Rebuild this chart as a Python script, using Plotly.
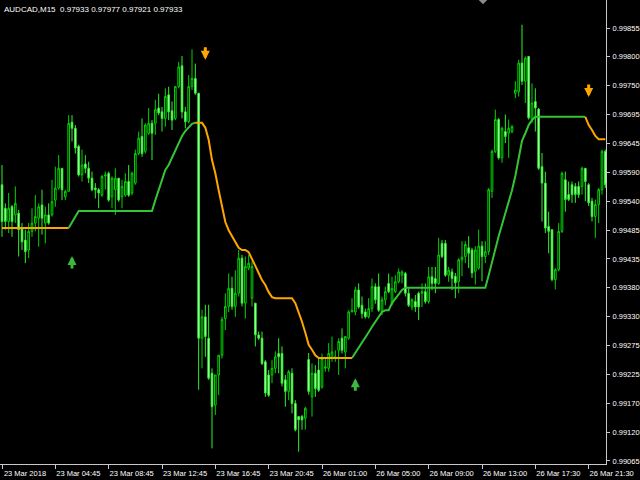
import numpy as np
import plotly.graph_objects as go

symbol_title = "AUDCAD,M15\u00a0 0.97933 0.97977 0.97921 0.97933"

open_ = [
0.99569, 0.99526, 0.99502, 0.99529, 0.99514, 0.99517, 0.99490, 0.99468, 0.99450, 0.99484,
0.99499, 0.99508, 0.99532, 0.99499, 0.99514, 0.99514, 0.99541, 0.99563, 0.99599, 0.99547,
0.99557, 0.99683, 0.99672, 0.99639, 0.99587, 0.99607, 0.99599, 0.99581, 0.99563, 0.99560,
0.99550, 0.99585, 0.99590, 0.99547, 0.99560, 0.99581, 0.99547, 0.99550, 0.99575, 0.99554,
0.99572, 0.99626, 0.99657, 0.99630, 0.99663, 0.99681, 0.99681, 0.99709, 0.99702, 0.99690,
0.99733, 0.99704, 0.99690, 0.99748, 0.99786, 0.99702, 0.99684, 0.99748, 0.99763, 0.99736,
0.99289, 0.99328, 0.99289, 0.99225, 0.99167, 0.99222, 0.99258, 0.99325, 0.99347, 0.99380,
0.99347, 0.99371, 0.99435, 0.99353, 0.99417, 0.99362, 0.99353, 0.99295, 0.99289, 0.99246,
0.99222, 0.99222, 0.99234, 0.99261, 0.99261, 0.99213, 0.99192, 0.99225, 0.99170, 0.99146,
0.99146, 0.99143, 0.99250, 0.99182, 0.99225, 0.99231, 0.99200, 0.99234, 0.99234, 0.99252,
0.99252, 0.99267, 0.99289, 0.99264, 0.99289, 0.99337, 0.99337, 0.99377, 0.99349, 0.99337,
0.99328, 0.99343, 0.99383, 0.99383, 0.99337, 0.99359, 0.99389, 0.99352, 0.99374, 0.99392,
0.99404, 0.99407, 0.99371, 0.99346, 0.99356, 0.99371, 0.99371, 0.99374, 0.99356, 0.99401,
0.99398, 0.99389, 0.99462, 0.99462, 0.99404, 0.99410, 0.99402, 0.99392, 0.99432, 0.99438,
0.99454, 0.99450, 0.99411, 0.99417, 0.99457, 0.99438, 0.99447, 0.99557, 0.99630, 0.99688,
0.99618, 0.99666, 0.99663, 0.99666, 0.99736, 0.99739, 0.99791, 0.99758, 0.99803, 0.99688,
0.99721, 0.99707, 0.99602, 0.99572, 0.99493, 0.99487, 0.99396, 0.99414, 0.99484, 0.99578,
0.99551, 0.99569, 0.99566, 0.99566, 0.99566, 0.99599, 0.99569, 0.99539, 0.99511, 0.99533,
0.99560, 0.99630]

high = [
0.99605, 0.99535, 0.99554, 0.99532, 0.99566, 0.99523, 0.99499, 0.99487, 0.99499, 0.99526,
0.99550, 0.99535, 0.99560, 0.99529, 0.99535, 0.99578, 0.99602, 0.99623, 0.99599, 0.99560,
0.99696, 0.99696, 0.99678, 0.99642, 0.99633, 0.99623, 0.99611, 0.99593, 0.99572, 0.99563,
0.99587, 0.99593, 0.99593, 0.99584, 0.99599, 0.99581, 0.99578, 0.99590, 0.99605, 0.99593,
0.99633, 0.99666, 0.99690, 0.99681, 0.99709, 0.99687, 0.99724, 0.99735, 0.99711, 0.99745,
0.99748, 0.99721, 0.99749, 0.99793, 0.99804, 0.99711, 0.99769, 0.99816, 0.99790, 0.99736,
0.99341, 0.99350, 0.99350, 0.99234, 0.99222, 0.99258, 0.99328, 0.99371, 0.99407, 0.99401,
0.99413, 0.99450, 0.99441, 0.99438, 0.99441, 0.99429, 0.99353, 0.99301, 0.99301, 0.99249,
0.99231, 0.99249, 0.99265, 0.99289, 0.99274, 0.99222, 0.99231, 0.99234, 0.99176, 0.99146,
0.99149, 0.99164, 0.99262, 0.99243, 0.99240, 0.99252, 0.99261, 0.99252, 0.99280, 0.99292,
0.99267, 0.99289, 0.99307, 0.99292, 0.99340, 0.99362, 0.99383, 0.99389, 0.99365, 0.99343,
0.99362, 0.99398, 0.99389, 0.99407, 0.99365, 0.99383, 0.99407, 0.99401, 0.99404, 0.99416,
0.99413, 0.99410, 0.99380, 0.99362, 0.99368, 0.99374, 0.99389, 0.99389, 0.99419, 0.99419,
0.99419, 0.99472, 0.99468, 0.99468, 0.99419, 0.99416, 0.99408, 0.99435, 0.99466, 0.99466,
0.99475, 0.99454, 0.99457, 0.99487, 0.99466, 0.99466, 0.99563, 0.99633, 0.99706, 0.99691,
0.99675, 0.99697, 0.99688, 0.99678, 0.99758, 0.99797, 0.99861, 0.99803, 0.99803, 0.99754,
0.99745, 0.99709, 0.99627, 0.99593, 0.99520, 0.99487, 0.99417, 0.99499, 0.99593, 0.99593,
0.99575, 0.99575, 0.99572, 0.99575, 0.99602, 0.99599, 0.99572, 0.99545, 0.99542, 0.99563,
0.99633, 0.99633]

low = [
0.99474, 0.99487, 0.99481, 0.99474, 0.99499, 0.99438, 0.99450, 0.99426, 0.99435, 0.99474,
0.99484, 0.99456, 0.99478, 0.99462, 0.99496, 0.99511, 0.99529, 0.99560, 0.99541, 0.99541,
0.99557, 0.99648, 0.99626, 0.99584, 0.99575, 0.99590, 0.99572, 0.99557, 0.99544, 0.99526,
0.99547, 0.99560, 0.99538, 0.99526, 0.99514, 0.99538, 0.99526, 0.99547, 0.99547, 0.99550,
0.99569, 0.99623, 0.99620, 0.99626, 0.99660, 0.99614, 0.99660, 0.99696, 0.99666, 0.99675,
0.99687, 0.99669, 0.99687, 0.99745, 0.99690, 0.99672, 0.99681, 0.99742, 0.99733, 0.99195,
0.99234, 0.99255, 0.99213, 0.99088, 0.99149, 0.99185, 0.99252, 0.99304, 0.99337, 0.99341,
0.99328, 0.99365, 0.99347, 0.99325, 0.99413, 0.99347, 0.99274, 0.99286, 0.99240, 0.99182,
0.99182, 0.99207, 0.99225, 0.99225, 0.99201, 0.99164, 0.99176, 0.99152, 0.99119, 0.99082,
0.99122, 0.99122, 0.99186, 0.99146, 0.99182, 0.99191, 0.99197, 0.99228, 0.99228, 0.99246,
0.99246, 0.99222, 0.99261, 0.99234, 0.99286, 0.99337, 0.99331, 0.99343, 0.99325, 0.99325,
0.99325, 0.99337, 0.99352, 0.99337, 0.99331, 0.99349, 0.99371, 0.99349, 0.99371, 0.99389,
0.99389, 0.99365, 0.99346, 0.99340, 0.99337, 0.99322, 0.99346, 0.99352, 0.99352, 0.99377,
0.99371, 0.99386, 0.99435, 0.99401, 0.99392, 0.99377, 0.99362, 0.99371, 0.99402, 0.99426,
0.99417, 0.99399, 0.99387, 0.99414, 0.99393, 0.99426, 0.99441, 0.99545, 0.99627, 0.99615,
0.99609, 0.99645, 0.99618, 0.99663, 0.99727, 0.99730, 0.99751, 0.99718, 0.99688, 0.99682,
0.99666, 0.99596, 0.99502, 0.99481, 0.99444, 0.99393, 0.99378, 0.99411, 0.99481, 0.99520,
0.99539, 0.99536, 0.99536, 0.99545, 0.99551, 0.99539, 0.99530, 0.99502, 0.99472, 0.99499,
0.99551, 0.99563]

close = [
0.99502, 0.99502, 0.99526, 0.99502, 0.99535, 0.99487, 0.99465, 0.99447, 0.99484, 0.99499,
0.99511, 0.99529, 0.99508, 0.99514, 0.99499, 0.99538, 0.99563, 0.99599, 0.99560, 0.99557,
0.99681, 0.99672, 0.99636, 0.99587, 0.99605, 0.99599, 0.99581, 0.99560, 0.99560, 0.99554,
0.99584, 0.99587, 0.99541, 0.99581, 0.99581, 0.99541, 0.99566, 0.99575, 0.99550, 0.99590,
0.99626, 0.99654, 0.99626, 0.99678, 0.99681, 0.99663, 0.99706, 0.99700, 0.99690, 0.99730,
0.99702, 0.99687, 0.99748, 0.99784, 0.99702, 0.99684, 0.99748, 0.99763, 0.99736, 0.99289,
0.99328, 0.99292, 0.99216, 0.99164, 0.99222, 0.99258, 0.99323, 0.99347, 0.99380, 0.99347,
0.99371, 0.99435, 0.99353, 0.99420, 0.99426, 0.99420, 0.99295, 0.99289, 0.99243, 0.99189,
0.99185, 0.99234, 0.99255, 0.99255, 0.99207, 0.99192, 0.99228, 0.99170, 0.99122, 0.99140,
0.99140, 0.99161, 0.99192, 0.99225, 0.99197, 0.99194, 0.99252, 0.99237, 0.99261, 0.99264,
0.99255, 0.99283, 0.99267, 0.99292, 0.99337, 0.99340, 0.99377, 0.99346, 0.99334, 0.99328,
0.99343, 0.99383, 0.99359, 0.99340, 0.99359, 0.99374, 0.99374, 0.99380, 0.99392, 0.99410,
0.99410, 0.99371, 0.99349, 0.99359, 0.99346, 0.99346, 0.99374, 0.99356, 0.99401, 0.99389,
0.99389, 0.99441, 0.99438, 0.99404, 0.99413, 0.99398, 0.99390, 0.99432, 0.99437, 0.99460,
0.99444, 0.99408, 0.99450, 0.99457, 0.99438, 0.99447, 0.99560, 0.99630, 0.99688, 0.99618,
0.99672, 0.99657, 0.99672, 0.99675, 0.99742, 0.99791, 0.99758, 0.99800, 0.99691, 0.99718,
0.99709, 0.99599, 0.99572, 0.99490, 0.99484, 0.99396, 0.99414, 0.99484, 0.99590, 0.99542,
0.99542, 0.99551, 0.99551, 0.99551, 0.99599, 0.99575, 0.99536, 0.99511, 0.99533, 0.99560,
0.99630, 0.99569]

# trend-line indicator (one value per bar)
trend = [
0.99490, 0.99490, 0.99490, 0.99490, 0.99490, 0.99490, 0.99490, 0.99490, 0.99490, 0.99490,
0.99490, 0.99490, 0.99490, 0.99490, 0.99490, 0.99490, 0.99490, 0.99490, 0.99490, 0.99490,
0.99490, 0.99501, 0.99512, 0.99521, 0.99521, 0.99521, 0.99521, 0.99521, 0.99521, 0.99521,
0.99521, 0.99521, 0.99521, 0.99521, 0.99521, 0.99521, 0.99521, 0.99521, 0.99521, 0.99521,
0.99521, 0.99521, 0.99521, 0.99521, 0.99521, 0.99521, 0.99541, 0.99559, 0.99578, 0.99596,
0.99605, 0.99618, 0.99632, 0.99647, 0.99658, 0.99667, 0.99674, 0.99680, 0.99682, 0.99682,
0.99682, 0.99673, 0.99651, 0.99614, 0.99590, 0.99559, 0.99528, 0.99501, 0.99486, 0.99475,
0.99466, 0.99454, 0.99450, 0.99450, 0.99446, 0.99432, 0.99421, 0.99408, 0.99395, 0.99386,
0.99373, 0.99364, 0.99362, 0.99362, 0.99362, 0.99362, 0.99362, 0.99362, 0.99353, 0.99337,
0.99319, 0.99299, 0.99277, 0.99268, 0.99258, 0.99253, 0.99253, 0.99253, 0.99253, 0.99253,
0.99253, 0.99253, 0.99253, 0.99253, 0.99253, 0.99253, 0.99262, 0.99271, 0.99280, 0.99291,
0.99300, 0.99310, 0.99319, 0.99330, 0.99337, 0.99340, 0.99340, 0.99353, 0.99361, 0.99370,
0.99377, 0.99381, 0.99381, 0.99381, 0.99381, 0.99381, 0.99381, 0.99381, 0.99381, 0.99381,
0.99381, 0.99381, 0.99381, 0.99381, 0.99381, 0.99381, 0.99381, 0.99381, 0.99381, 0.99381,
0.99381, 0.99381, 0.99381, 0.99381, 0.99381, 0.99381, 0.99404, 0.99428, 0.99454, 0.99475,
0.99496, 0.99516, 0.99536, 0.99559, 0.99585, 0.99618, 0.99649, 0.99663, 0.99678, 0.99687,
0.99693, 0.99693, 0.99693, 0.99693, 0.99693, 0.99693, 0.99693, 0.99693, 0.99693, 0.99693,
0.99693, 0.99693, 0.99693, 0.99693, 0.99693, 0.99693, 0.99678, 0.99669, 0.99658, 0.99652,
0.99652, 0.99652]
# (first bar, last bar, direction) of each trend segment
trend_segments = [(0, 20, "down"), (20, 58, "up"), (58, 105, "down"), (105, 175, "up"), (175, 181, "down")]

buy_bar = [21, 106]
buy_price = [0.99439, 0.99216]
sell_bar = [61, 176]
sell_price = [0.99797, 0.99729]

tick_bars = [0, 16, 32, 48, 64, 80, 96, 112, 128, 144, 160, 176]
tick_text = ["23 Mar 2018", "23 Mar 04:45", "23 Mar 08:45", "23 Mar 12:45", "23 Mar 16:45",
             "23 Mar 20:45", "26 Mar 01:00", "26 Mar 05:00", "26 Mar 09:00", "26 Mar 13:00",
             "26 Mar 17:30", "26 Mar 21:30"]
price_labels = ["0.99855", "0.99800", "0.99750", "0.99695", "0.99645", "0.99590", "0.99540",
                "0.99485", "0.99435", "0.99380", "0.99330", "0.99275", "0.99225", "0.99170",
                "0.99120", "0.99065"]
price_tickvals = np.linspace(float(price_labels[0]), float(price_labels[-1]), len(price_labels))

x = list(range(len(open_)))
fig = go.Figure()
fig.add_trace(go.Candlestick(
    x=x, open=open_, high=high, low=low, close=close,
    increasing=dict(line=dict(color="#00d400", width=1), fillcolor="#000000"),
    decreasing=dict(line=dict(color="#2cf22c", width=1), fillcolor="#e2ffe2"),
    hoverinfo="skip", showlegend=False))

colors = {"up": "#35c435", "down": "#ffa500"}
for a, b, d in trend_segments:
    fig.add_trace(go.Scatter(x=x[a:b + 1], y=trend[a:b + 1], mode="lines",
                             line=dict(color=colors[d], width=2), hoverinfo="skip",
                             showlegend=False))

for b, p in zip(buy_bar, buy_price):
    fig.add_annotation(x=b, y=p, xref="x", yref="y", text="", showarrow=True,
                       ax=0, ay=14, arrowhead=2, arrowsize=0.6, arrowwidth=3,
                       arrowcolor="#3cb83c")
for b, p in zip(sell_bar, sell_price):
    fig.add_annotation(x=b, y=p, xref="x", yref="y", text="", showarrow=True,
                       ax=0, ay=-14, arrowhead=2, arrowsize=0.6, arrowwidth=3,
                       arrowcolor="#ffa500")

fig.add_annotation(x=0, y=1, xref="paper", yref="paper", xanchor="left", yanchor="top",
                   xshift=2, yshift=-3, text=symbol_title, showarrow=False,
                   font=dict(family="Liberation Sans, Arial", size=8, color="#ffffff"))

fig.add_shape(type="path", xref="paper", yref="paper",
              path="M 0.790,1 L 0.804,1 L 0.797,0.991 Z",
              fillcolor="#8a8a8a", line=dict(width=0))

axis_font = dict(family="Liberation Sans, Arial", size=7.5, color="#ffffff")
fig.update_layout(
    width=640, height=480, autosize=False,
    margin=dict(l=0, r=34, t=0, b=16, pad=0),
    paper_bgcolor="#000000", plot_bgcolor="#000000",
    xaxis=dict(range=[-0.6, 181.2], showgrid=False, zeroline=False,
               rangeslider=dict(visible=False),
               showline=True, linecolor="#c8c8c8", linewidth=1,
               ticks="outside", ticklen=4, tickcolor="#c8c8c8", tickwidth=1,
               tickvals=tick_bars, ticktext=tick_text, tickfont=axis_font,
               ticklabelshift=23, ticklabelstandoff=-2),
    yaxis=dict(range=[0.990595, 0.999061], side="right", showgrid=False, zeroline=False,
               showline=True, linecolor="#c8c8c8", linewidth=1,
               ticks="outside", ticklen=3, tickcolor="#c8c8c8", tickwidth=1,
               tickvals=price_tickvals, ticktext=price_labels, tickfont=axis_font,
               ticklabelstandoff=1),
)

fig.write_html("out.html", config={"displayModeBar": False},
               post_script="document.body.style.margin='0';document.body.style.background='#000';")
